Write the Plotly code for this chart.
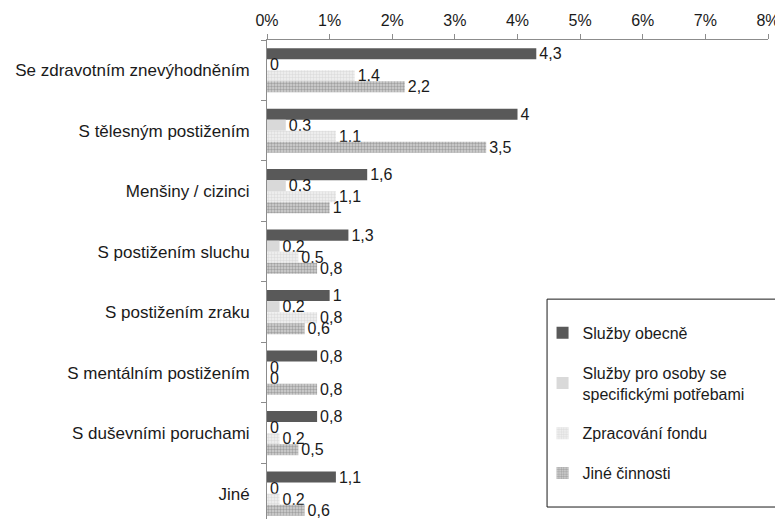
import plotly.graph_objects as go

categories = ["Se zdravotním znevýhodněním", "S tělesným postižením", "Menšiny / cizinci",
              "S postižením sluchu", "S postižením zraku", "S mentálním postižením",
              "S duševními poruchami", "Jiné"]
series_names = ["Služby obecně", "Služby pro osoby se<br>specifickými potřebami",
                "Zpracování fondu", "Jiné činnosti"]
sluzby_obecne = [4.3, 4.0, 1.6, 1.3, 1.0, 0.8, 0.8, 1.1]
sluzby_specificke = [0, 0.3, 0.3, 0.2, 0.2, 0, 0, 0]
zpracovani_fondu = [1.4, 1.1, 1.1, 0.5, 0.8, 0, 0.2, 0.2]
jine_cinnosti = [2.2, 3.5, 1.0, 0.8, 0.6, 0.8, 0.5, 0.6]
x_ticks = [0, 1, 2, 3, 4, 5, 6, 7, 8]

FONT = "Liberation Sans, Arial, sans-serif"
TXT = "#1a1a1a"
series = [sluzby_obecne, sluzby_specificke, zpracovani_fondu, jine_cinnosti]
markers = [
    dict(color="#595959"),
    dict(color="#d9d9d9"),
    dict(color="#ffffff", pattern=dict(shape=".", fgcolor="#c8c8c8", bgcolor="#f2f2f2", size=3, solidity=0.5)),
    dict(color="#ffffff", pattern=dict(shape=".", fgcolor="#6e6e6e", bgcolor="#d4d4d4", size=3, solidity=0.5)),
]

def fmt(v):
    return ("%g" % v).replace(".", ",")

fig = go.Figure()
for name, vals, mk in zip(series_names, series, markers):
    fig.add_trace(go.Bar(
        y=categories, x=[v / 100 for v in vals], orientation="h", name=name,
        marker=dict(line=dict(width=0), **mk),
        text=[fmt(v) for v in vals], textposition="outside", cliponaxis=False,
        constraintext="none",
        textfont=dict(family=FONT, size=16, color=TXT),
        legendgroup=name,
    ))

# page body has an 8px default margin, so the figure is 8px smaller and margins shifted
fig.update_layout(
    width=775, height=511,
    margin=dict(l=259, r=15, t=32, b=0, autoexpand=False),
    paper_bgcolor="white", plot_bgcolor="white",
    barmode="group", bargap=0.27, bargroupgap=0,
    font=dict(family=FONT, size=16, color=TXT),
    xaxis=dict(side="top", range=[0, 0.08], tickvals=[t / 100 for t in x_ticks],
               tickformat=".0%", showgrid=False, zeroline=False, automargin=False,
               showline=True, linecolor="#8c8c8c", linewidth=1,
               ticks="outside", ticklen=5, tickcolor="#8c8c8c", ticklabelstandoff=2,
               tickfont=dict(family=FONT, size=16, color=TXT)),
    yaxis=dict(range=[7.42, -0.5], showgrid=False, zeroline=False, automargin=False,
               showline=True, linecolor="#8c8c8c", linewidth=1,
               ticks="outside", ticklen=5, tickcolor="#8c8c8c", tickson="boundaries",
               ticklabelstandoff=13,
               tickfont=dict(family=FONT, size=17, color=TXT)),
    legend=dict(x=0.55, y=0.424, xanchor="left", yanchor="top",
                bgcolor="rgba(0,0,0,0)", borderwidth=0,
                tracegroupgap=16, traceorder="grouped",
                font=dict(family=FONT, size=16, color=TXT),
                itemwidth=30),
    shapes=[dict(type="rect", xref="paper", yref="paper", x0=0.559, x1=1.04, y0=0.025, y1=0.459,
                 line=dict(color="#1a1a1a", width=1), fillcolor="white", layer="below")],
)

fig.write_html("out.html")
